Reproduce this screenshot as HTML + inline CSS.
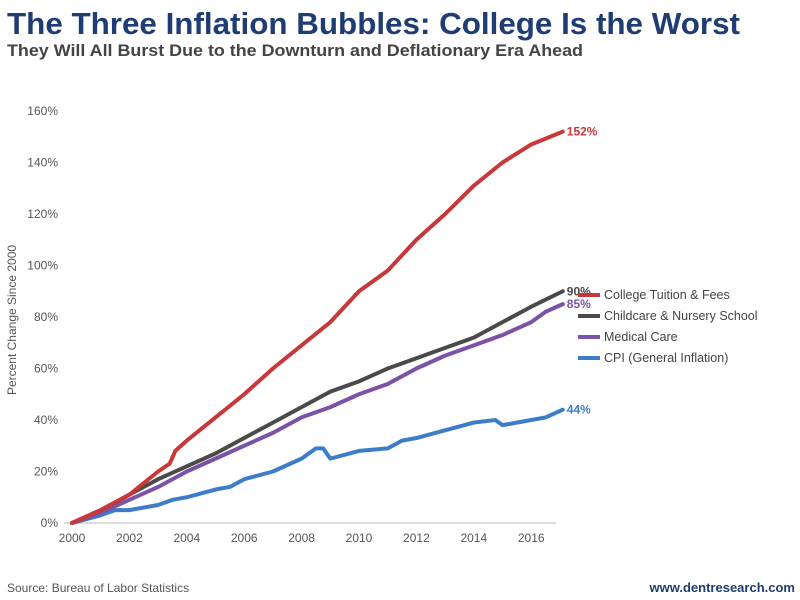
<!DOCTYPE html>
<html><head><meta charset="utf-8"><style>
body{margin:0;background:#fff;font-family:"Liberation Sans",sans-serif;}
#wrap{position:relative;width:800px;height:600px;overflow:hidden;}
</style></head><body>
<div id="wrap">
<svg id="chart" width="800" height="600" font-family="Liberation Sans, sans-serif">
<text x="7" y="34" font-size="31" font-weight="bold" fill="#1f3c73" textLength="733" lengthAdjust="spacingAndGlyphs">The Three Inflation Bubbles: College Is the Worst</text>
<text x="7" y="56" font-size="17" font-weight="bold" fill="#444" textLength="576" lengthAdjust="spacingAndGlyphs">They Will All Burst Due to the Downturn and Deflationary Era Ahead</text>
<text transform="translate(16,320) rotate(-90)" text-anchor="middle" font-size="12" fill="#555">Percent Change Since 2000</text>
<text x="7" y="592" font-size="12" fill="#555">Source: Bureau of Labor Statistics</text>
<text x="795" y="592" text-anchor="end" font-size="13" font-weight="bold" fill="#1f3c73">www.dentresearch.com</text>
<g id="axes"></g><g id="series"></g><g id="legend"></g>
</svg>
</div>
<script>
const yTicks=[0,20,40,60,80,100,120,140,160];
const xTicks=[2000,2002,2004,2006,2008,2010,2012,2014,2016];
const seriesNames=["College Tuition & Fees","Childcare & Nursery School","Medical Care","CPI (General Inflation)"];
const seriesColors=["#c8383a","#4a4a4a","#7a52a6","#3d7cc9"];
const endLabels=["152%","90%","85%","44%"];
const collegeYears=[2000,2001,2002,2003,2003.4,2003.6,2004,2005,2006,2007,2008,2009,2010,2011,2012,2013,2014,2015,2016,2017.1];
const collegeVals=[0,5,11,20,23,28,32,41,50,60,69,78,90,98,110,120,131,140,147,152];
const childYears=[2000,2001,2002,2003,2004,2005,2006,2007,2008,2009,2010,2011,2012,2013,2014,2015,2016,2017.1];
const childVals=[0,5,11,17,22,27,33,39,45,51,55,60,64,68,72,78,84,90];
const medYears=[2000,2001,2002,2003,2004,2005,2006,2007,2008,2009,2010,2011,2012,2013,2014,2015,2016,2016.5,2017.1];
const medVals=[0,4,9,14,20,25,30,35,41,45,50,54,60,65,69,73,78,82,85];
const cpiYears=[2000,2001,2001.5,2002,2003,2003.5,2004,2005,2005.5,2006,2007,2008,2008.5,2008.75,2009,2010,2011,2011.5,2012,2013,2014,2014.75,2015,2016,2016.5,2017.1];
const cpiVals=[0,3,5,5,7,9,10,13,14,17,20,25,29,29,25,28,29,32,33,36,39,40,38,40,41,44];
const years=[collegeYears,childYears,medYears,cpiYears];
const vals=[collegeVals,childVals,medVals,cpiVals];
const NS="http://www.w3.org/2000/svg";
const X=y=>72+(y-2000)*28.7;
const Y=v=>523-v*2.575;
function mk(t,a,p){const e=document.createElementNS(NS,t);for(const k in a)e.setAttribute(k,a[k]);p.appendChild(e);return e;}
const axes=document.getElementById('axes');
const axisLine=mk('line',{x1:64,x2:556,y1:523,y2:523,stroke:'#d0d0d0','stroke-width':1.5},axes);


yTicks.forEach(v=>{const t=mk('text',{x:58,y:Y(v)+4,'text-anchor':'end','font-size':12,fill:'#555'},axes);t.textContent=v+'%';

});
xTicks.forEach(v=>{const t=mk('text',{x:X(v),y:542,'text-anchor':'middle','font-size':12,fill:'#555'},axes);t.textContent=v;

});
const sg=document.getElementById('series');
for(let i=3;i>=0;i--){
 const pts=years[i].map((y,j)=>X(y)+','+Y(vals[i][j])).join(' ');
 const pl=mk('polyline',{points:pts,fill:'none',stroke:seriesColors[i],'stroke-width':4,'stroke-linejoin':'round','stroke-linecap':'round'},sg);
 
 
 const n=years[i].length;
 const t=mk('text',{x:X(years[i][n-1])+4,y:Y(vals[i][n-1])+4,'font-size':12,'font-weight':'bold',fill:seriesColors[i]},sg);
 t.textContent=endLabels[i];
 
 
}
const lg=document.getElementById('legend');
seriesNames.forEach((s,i)=>{const y=295+i*21;
 const l=mk('line',{x1:578,x2:600,y1:y,y2:y,stroke:seriesColors[i],'stroke-width':4},lg);
 
 
 const t=mk('text',{x:604,y:y+4,'font-size':12.5,fill:'#444'},lg);t.textContent=s;
 
 
});
</script>
</body></html>
